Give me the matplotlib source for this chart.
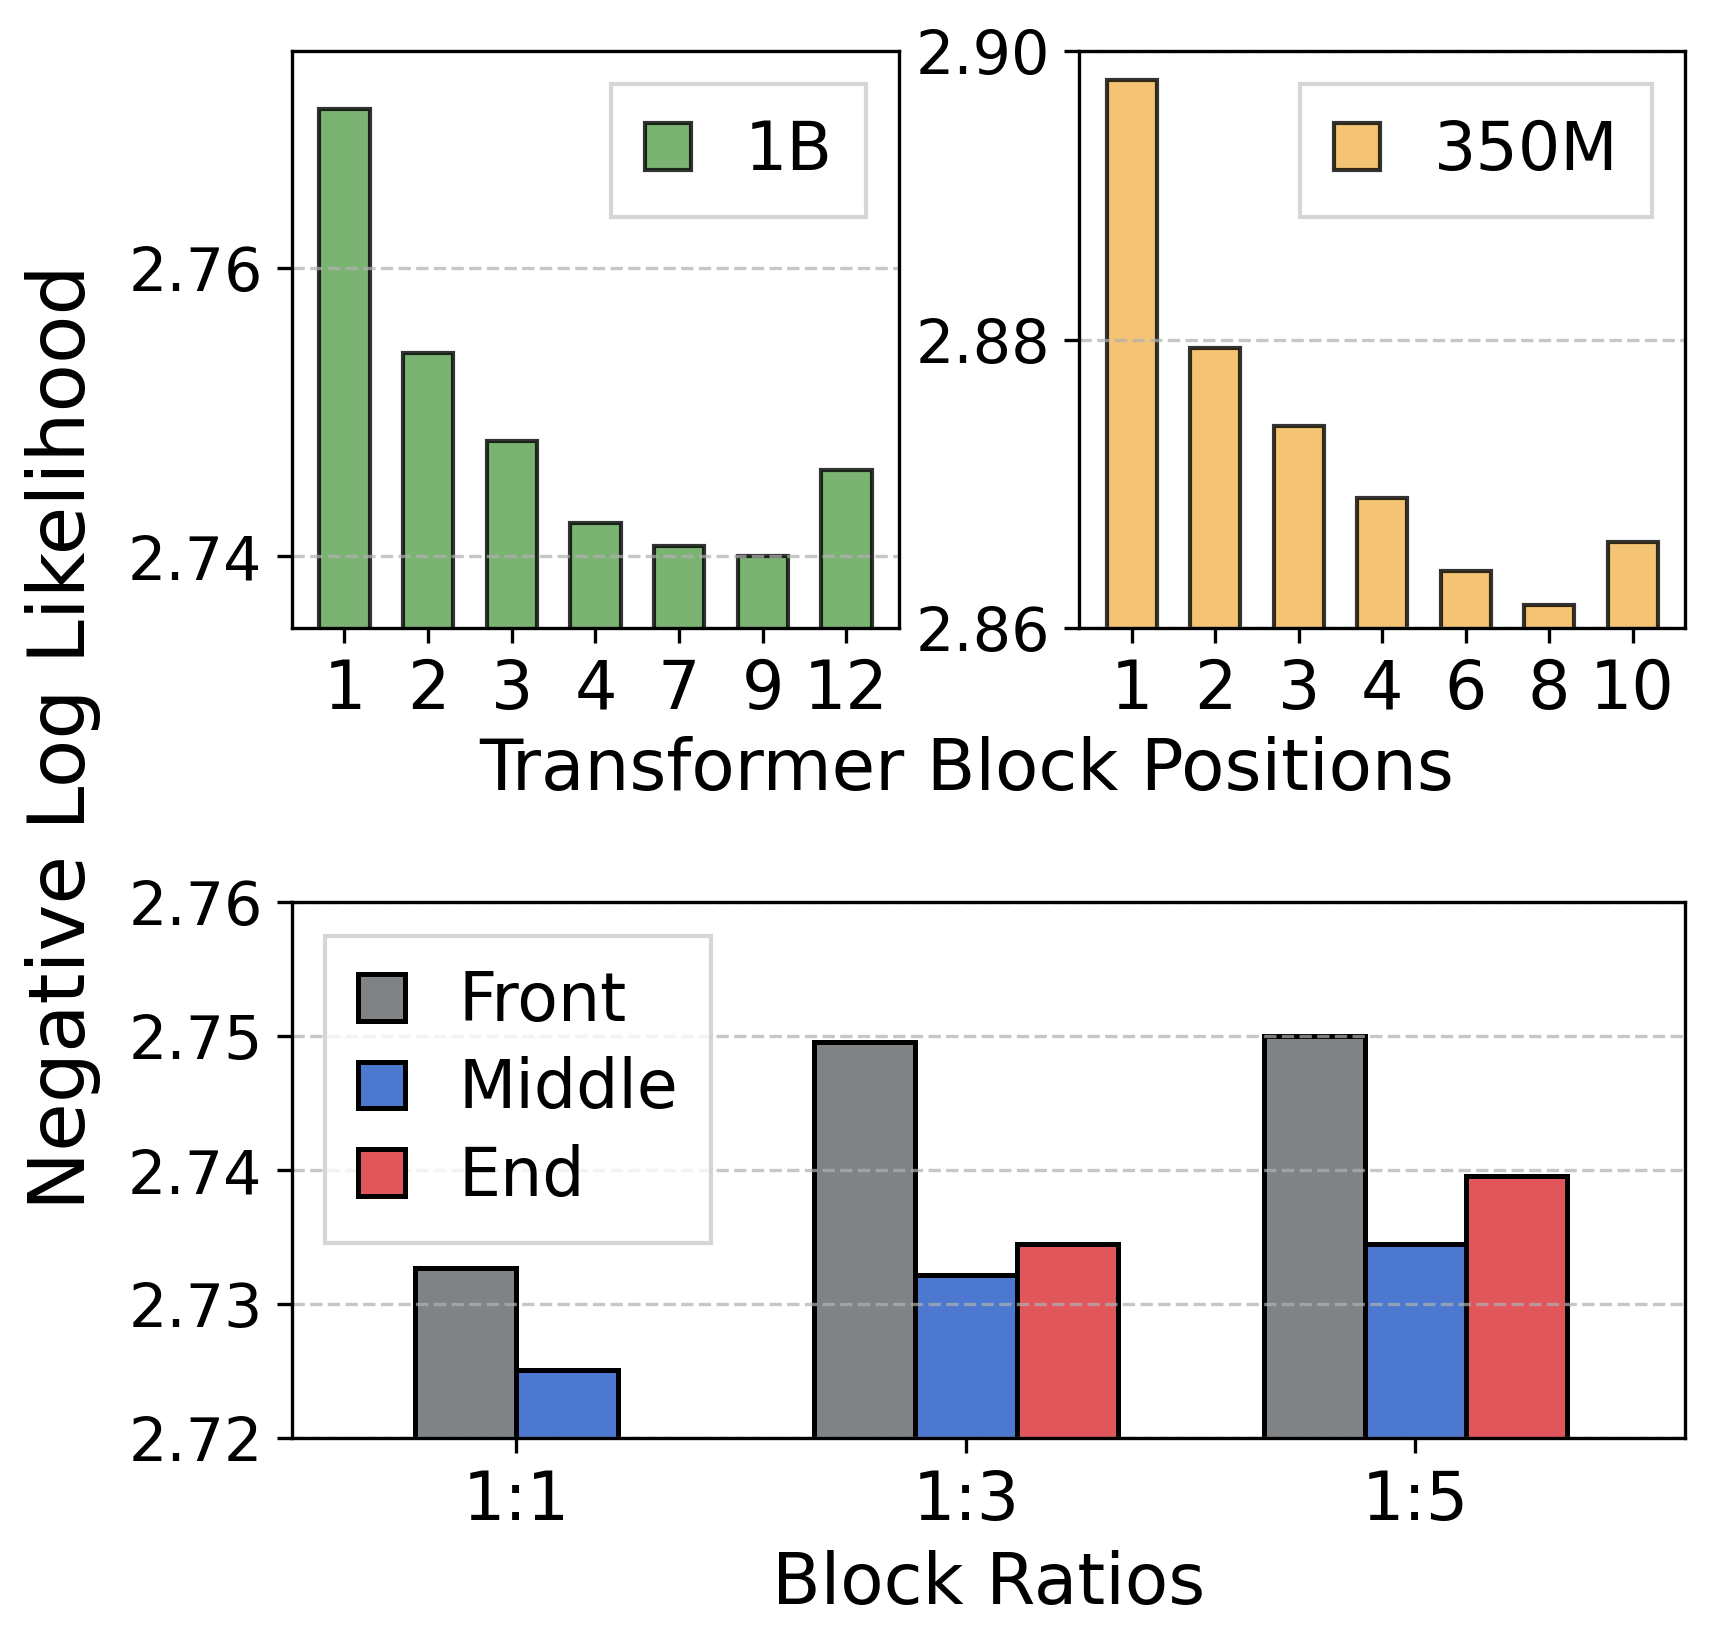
import numpy as np
import matplotlib
matplotlib.use("Agg")
import matplotlib.pyplot as plt

# top left: 1B model
pos_1b = ["1", "2", "3", "4", "7", "9", "12"]
nll_1b = [2.7710, 2.7541, 2.7480, 2.7423, 2.7407, 2.7400, 2.7460]

# top right: 350M model
pos_350m = ["1", "2", "3", "4", "6", "8", "10"]
nll_350m = [2.8980, 2.8794, 2.8740, 2.8690, 2.8640, 2.8616, 2.8660]

# bottom: block ratios
ratios = ["1:1", "1:3", "1:5"]
front = [2.7327, 2.7496, 2.7500]
middle = [2.7251, 2.7322, 2.7345]
end = [np.nan, 2.7345, 2.7396]

c_green = "#7bb472"
c_orange = "#f5c374"
c_gray = "#808386"
c_blue = "#4c78cf"
c_red = "#e0565b"

fig = plt.figure(figsize=(1716 / 300, 1649 / 300), dpi=300)

ax1 = fig.add_axes([0.170, 0.619, 0.354, 0.350])
ax2 = fig.add_axes([0.629, 0.619, 0.353, 0.350])
ax3 = fig.add_axes([0.170, 0.1277, 0.812, 0.325])

edge = (0, 0, 0, 0.8)
leg_kw = dict(fontsize=16, fancybox=False, borderpad=0.5,
              handlelength=0.7, handleheight=0.7, handletextpad=0.8)

x = np.arange(len(pos_1b))
ax1.bar(x, nll_1b, width=0.6, color=c_green, edgecolor=edge, linewidth=1.0, label="1B")
ax1.set_xticks(x)
ax1.set_xticklabels(pos_1b)
ax1.set_ylim(2.735, 2.775)
ax1.set_yticks([2.74, 2.76])

x = np.arange(len(pos_350m))
ax2.bar(x, nll_350m, width=0.6, color=c_orange, edgecolor=edge, linewidth=1.0, label="350M")
ax2.set_xticks(x)
ax2.set_xticklabels(pos_350m)
ax2.set_ylim(2.86, 2.90)
ax2.set_yticks([2.86, 2.88, 2.90])

for ax in (ax1, ax2):
    ax.tick_params(axis="x", labelsize=16)
    ax.tick_params(axis="y", labelsize=14.5)
    ax.grid(axis="y", linestyle="--", alpha=0.7)
    ax.legend(loc="upper right", **leg_kw)

# bottom grouped bars, 1:1 has only two bars so centre them
w = 0.225
xg = np.arange(len(ratios))
n_bars = np.array([2 if np.isnan(e) else 3 for e in end])
off = np.where(n_bars == 2, w / 2, w)
ax3.bar(xg - off, front, width=w, color=c_gray, edgecolor="black", linewidth=1.2, label="Front")
ax3.bar(xg - off + w, middle, width=w, color=c_blue, edgecolor="black", linewidth=1.2, label="Middle")
ax3.bar(xg - off + 2 * w, end, width=w, color=c_red, edgecolor="black", linewidth=1.2, label="End")
ax3.set_xticks(xg)
ax3.set_xticklabels(ratios)
ax3.set_xlim(-0.5, 2.6)
ax3.set_ylim(2.72, 2.76)
ax3.set_yticks([2.72, 2.73, 2.74, 2.75, 2.76])
ax3.tick_params(axis="x", labelsize=16)
ax3.tick_params(axis="y", labelsize=14.5)
ax3.grid(axis="y", linestyle="--", alpha=0.7)
ax3.set_xlabel("Block Ratios", fontsize=17)
ax3.legend(loc="upper left", labelspacing=0.32, **leg_kw)

fig.text(0.5635, 0.533, "Transformer Block Positions", fontsize=17, ha="center", va="center")
fig.text(0.037, 0.553, "Negative Log Likelihood", fontsize=19, rotation=90,
         ha="center", va="center")

fig.savefig("out.png", dpi=300)
